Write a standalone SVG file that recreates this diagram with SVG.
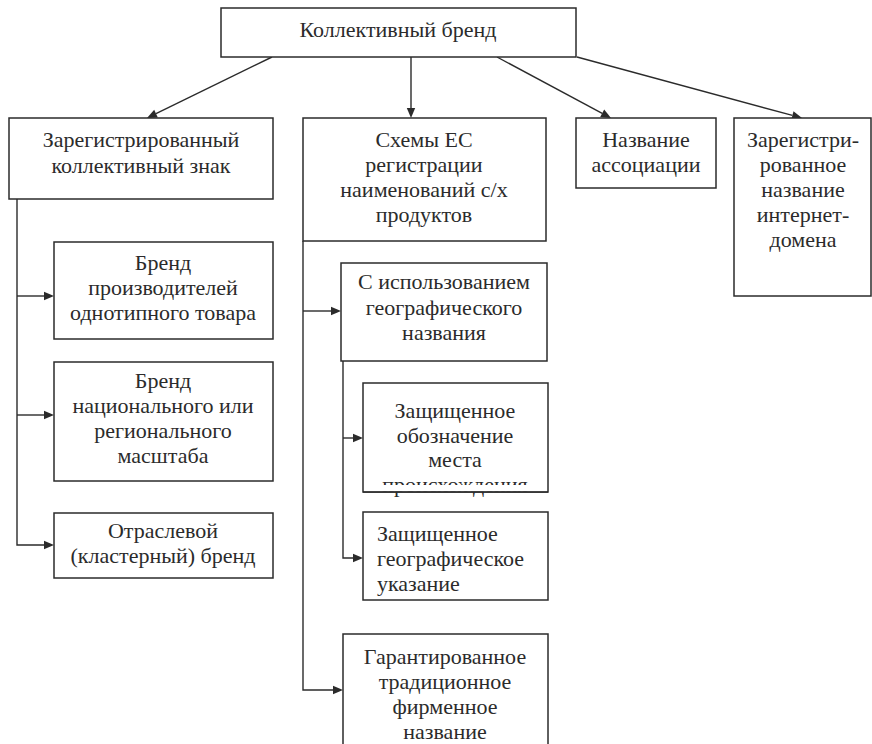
<svg xmlns="http://www.w3.org/2000/svg" width="872" height="744" viewBox="0 0 872 744">
<rect width="872" height="744" fill="#fff"/>
<g id="connectors" stroke="#2b2b2b" stroke-width="1.4" fill="none">
<line x1="272" y1="57" x2="156" y2="113.6"/>
<line x1="411" y1="57" x2="411" y2="108"/>
<line x1="497" y1="57" x2="602.2" y2="113.3"/>
<line x1="577" y1="57" x2="792.4" y2="115.4"/>
<polyline points="17,199 17,545 44,545"/>
<line x1="17" y1="296" x2="44" y2="296"/>
<line x1="17" y1="415" x2="44" y2="415"/>
<polyline points="303,241 303,690 333,690"/>
<line x1="303" y1="311" x2="331" y2="311"/>
<polyline points="343,361 343,558 353,558"/>
<line x1="343" y1="438" x2="353" y2="438"/>
<g fill="#2b2b2b" stroke="none">
<polygon points="147,118 157.8,117.4 154.2,109.8"/>
<polygon points="411,118 406.8,108 415.2,108"/>
<polygon points="611,118 600.2,117 604.2,109.6"/>
<polygon points="802,118 791.3,119.4 793.5,111.3"/>
<polygon points="54,296 44,291.8 44,300.2"/>
<polygon points="54,415 44,410.8 44,419.2"/>
<polygon points="54,545 44,540.8 44,549.2"/>
<polygon points="341,311 331,306.8 331,315.2"/>
<polygon points="343,690 333,685.8 333,694.2"/>
<polygon points="363,438 353,433.8 353,442.2"/>
<polygon points="363,558 353,553.8 353,562.2"/>
</g>
</g>
<g id="nodes" fill="#2b2b2b">
<g id="root">
<rect x="221" y="8" width="355" height="49" fill="#fff" stroke="#2b2b2b" stroke-width="1.5"/>
<text x="398" y="37" font-family="Liberation Serif" font-size="22" text-anchor="middle">Коллективный бренд</text>
</g>
<g id="reg-mark">
<rect x="9" y="118" width="264" height="81" fill="#fff" stroke="#2b2b2b" stroke-width="1.5"/>
<text x="141" y="147" font-family="Liberation Serif" font-size="22" text-anchor="middle">Зарегистрированный</text>
<text x="141" y="173" font-family="Liberation Serif" font-size="22" text-anchor="middle">коллективный знак</text>
</g>
<g id="eu-schemes">
<rect x="303" y="118" width="243" height="123" fill="#fff" stroke="#2b2b2b" stroke-width="1.5"/>
<text x="424" y="147" font-family="Liberation Serif" font-size="22" text-anchor="middle">Схемы ЕС</text>
<text x="424" y="172" font-family="Liberation Serif" font-size="22" text-anchor="middle">регистрации</text>
<text x="424" y="197" font-family="Liberation Serif" font-size="22" text-anchor="middle">наименований с/х</text>
<text x="424" y="222" font-family="Liberation Serif" font-size="22" text-anchor="middle">продуктов</text>
</g>
<g id="assoc">
<rect x="576" y="118" width="140" height="70" fill="#fff" stroke="#2b2b2b" stroke-width="1.5"/>
<text x="646" y="147" font-family="Liberation Serif" font-size="22" text-anchor="middle">Название</text>
<text x="646" y="172" font-family="Liberation Serif" font-size="22" text-anchor="middle">ассоциации</text>
</g>
<g id="domain">
<rect x="734" y="118" width="137" height="178" fill="#fff" stroke="#2b2b2b" stroke-width="1.5"/>
<text x="803" y="147" font-family="Liberation Serif" font-size="22" text-anchor="middle">Зарегистри-</text>
<text x="803" y="172" font-family="Liberation Serif" font-size="22" text-anchor="middle">рованное</text>
<text x="803" y="197" font-family="Liberation Serif" font-size="22" text-anchor="middle">название</text>
<text x="803" y="222" font-family="Liberation Serif" font-size="22" text-anchor="middle">интернет-</text>
<text x="803" y="247" font-family="Liberation Serif" font-size="22" text-anchor="middle">домена</text>
</g>
<g id="producers">
<rect x="54" y="242" width="219" height="97" fill="#fff" stroke="#2b2b2b" stroke-width="1.5"/>
<text x="163" y="270" font-family="Liberation Serif" font-size="22" text-anchor="middle">Бренд</text>
<text x="163" y="295" font-family="Liberation Serif" font-size="22" text-anchor="middle">производителей</text>
<text x="163" y="320" font-family="Liberation Serif" font-size="22" text-anchor="middle">однотипного товара</text>
</g>
<g id="national">
<rect x="54" y="362" width="219" height="119" fill="#fff" stroke="#2b2b2b" stroke-width="1.5"/>
<text x="163" y="388" font-family="Liberation Serif" font-size="22" text-anchor="middle">Бренд</text>
<text x="163" y="413" font-family="Liberation Serif" font-size="22" text-anchor="middle">национального или</text>
<text x="163" y="438" font-family="Liberation Serif" font-size="22" text-anchor="middle">регионального</text>
<text x="163" y="463" font-family="Liberation Serif" font-size="22" text-anchor="middle">масштаба</text>
</g>
<g id="cluster">
<rect x="54" y="513" width="219" height="65" fill="#fff" stroke="#2b2b2b" stroke-width="1.5"/>
<text x="163" y="538" font-family="Liberation Serif" font-size="22" text-anchor="middle">Отраслевой</text>
<text x="163" y="563" font-family="Liberation Serif" font-size="22" text-anchor="middle">(кластерный) бренд</text>
</g>
<g id="geo">
<rect x="341" y="263" width="206" height="98" fill="#fff" stroke="#2b2b2b" stroke-width="1.5"/>
<text x="444" y="289" font-family="Liberation Serif" font-size="22" text-anchor="middle">С использованием</text>
<text x="444" y="315" font-family="Liberation Serif" font-size="22" text-anchor="middle">географического</text>
<text x="444" y="340" font-family="Liberation Serif" font-size="22" text-anchor="middle">названия</text>
</g>
<g id="pdo">
<rect x="363" y="383" width="185" height="109" fill="#fff" stroke="#2b2b2b" stroke-width="1.5"/>
<text x="455" y="418" font-family="Liberation Serif" font-size="22" text-anchor="middle">Защищенное</text>
<text x="455" y="443" font-family="Liberation Serif" font-size="22" text-anchor="middle">обозначение</text>
<text x="455" y="467" font-family="Liberation Serif" font-size="22" text-anchor="middle">места</text>
<text x="455" y="492" font-family="Liberation Serif" font-size="22" text-anchor="middle">происхождения</text>
<rect x="364" y="485" width="183" height="6.3" fill="#fff"/>
<line x1="363" y1="492" x2="548" y2="492" stroke="#2b2b2b" stroke-width="1.5"/>
</g>
<g id="pgi">
<rect x="363" y="512" width="185" height="88" fill="#fff" stroke="#2b2b2b" stroke-width="1.5"/>
<text x="377" y="541" font-family="Liberation Serif" font-size="22">Защищенное</text>
<text x="377" y="566" font-family="Liberation Serif" font-size="22">географическое</text>
<text x="377" y="591" font-family="Liberation Serif" font-size="22">указание</text>
</g>
<g id="tsg">
<rect x="343" y="634" width="205" height="120" fill="#fff" stroke="#2b2b2b" stroke-width="1.5"/>
<text x="445" y="664" font-family="Liberation Serif" font-size="22" text-anchor="middle">Гарантированное</text>
<text x="445" y="689" font-family="Liberation Serif" font-size="22" text-anchor="middle">традиционное</text>
<text x="445" y="714" font-family="Liberation Serif" font-size="22" text-anchor="middle">фирменное</text>
<text x="445" y="739" font-family="Liberation Serif" font-size="22" text-anchor="middle">название</text>
</g>
</g>
</svg>
